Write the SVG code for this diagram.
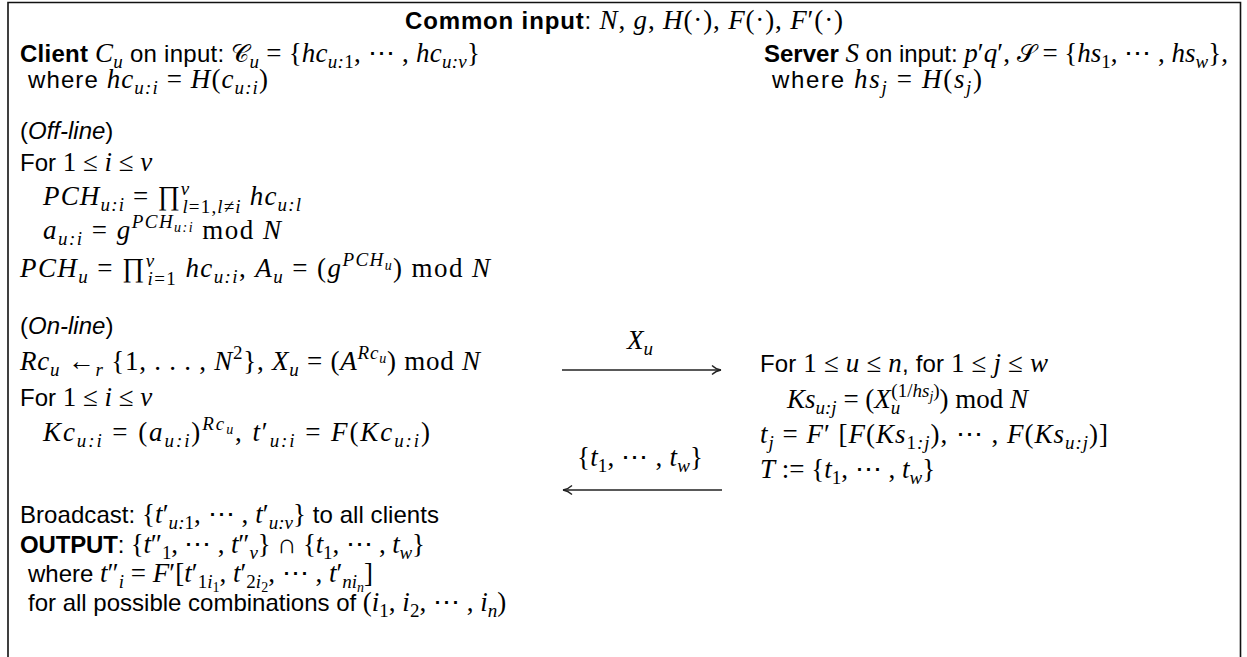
<svg xmlns="http://www.w3.org/2000/svg" width="1247" height="657" viewBox="0 0 1247 657">
<style>
text{font-family:"Liberation Serif","Times New Roman",serif;font-style:italic;font-size:27px;fill:#000}
.s{font-family:"Liberation Sans",Arial,sans-serif;font-style:normal;font-size:24px}
.b{font-weight:bold}
.si{font-style:italic}
.n{font-style:normal}
.sub{font-size:19px}
.sub2{font-size:14px}
.cal{font-family:"DejaVu Serif","Noto Sans",serif;font-style:normal;font-size:25px}
.ln{stroke:#222;stroke-width:1.3;fill:none}
.frame{stroke:#111;stroke-width:1.6;fill:none}
</style>
<defs>
<marker id="ah" markerWidth="12" markerHeight="12" refX="10" refY="6" orient="auto" markerUnits="userSpaceOnUse">
<path d="M1,1.5 Q5,5.3 10,6 Q5,6.7 1,10.5" class="ln"/>
</marker>
</defs>
<path class="frame" d="M8,657 V2.5 H1240.5 V657"/>
<g id="header">
<text x="405" y="29" textLength="438" lengthAdjust="spacing"><tspan class="s b">Common input</tspan><tspan class="s">: </tspan>N<tspan class="n">, </tspan>g<tspan class="n">, </tspan>H<tspan class="n">(·), </tspan>F<tspan class="n">(·), </tspan>F<tspan class="n">′(·)</tspan></text>
</g>
<g id="client">
<text x="20" y="62" textLength="460" lengthAdjust="spacing"><tspan class="s b">Client</tspan><tspan class="s"> </tspan>C<tspan class="sub" dy="6">u</tspan><tspan class="s" dy="-6"> on input: </tspan><tspan class="cal">𝒞</tspan><tspan class="sub" dy="6">u</tspan><tspan class="n" dy="-6"> = {</tspan>hc<tspan class="sub" dy="6">u:<tspan class="n">1</tspan></tspan><tspan class="n" dy="-6">, ⋯ , </tspan>hc<tspan class="sub" dy="6">u:v</tspan><tspan class="n" dy="-6">}</tspan></text>
<text x="28" y="88" textLength="240" lengthAdjust="spacing"><tspan class="s">where </tspan>hc<tspan class="sub" dy="6">u:i</tspan><tspan class="n" dy="-6"> = </tspan>H<tspan class="n">(</tspan>c<tspan class="sub" dy="6">u:i</tspan><tspan class="n" dy="-6">)</tspan></text>
</g>
<g id="server">
<text x="764" y="62"><tspan class="s b">Server</tspan><tspan class="s"> </tspan>S<tspan class="s"> on input: </tspan>p<tspan class="n">′</tspan>q<tspan class="n">′, </tspan><tspan class="cal">𝒮</tspan><tspan class="n"> = {</tspan>hs<tspan class="sub n" dy="6">1</tspan><tspan class="n" dy="-6">, ⋯ , </tspan>hs<tspan class="sub" dy="6">w</tspan><tspan class="n" dy="-6">},</tspan></text>
<text x="772" y="88" textLength="210" lengthAdjust="spacing"><tspan class="s">where </tspan>hs<tspan class="sub" dy="6">j</tspan><tspan class="n" dy="-6"> = </tspan>H<tspan class="n">(</tspan>s<tspan class="sub" dy="6">j</tspan><tspan class="n" dy="-6">)</tspan></text>
</g>
<g id="offline">
<text x="20" y="139" class="s">(<tspan class="si">Off-line</tspan>)</text>
<text x="20" y="171"><tspan class="s">For </tspan><tspan class="n">1 ≤ </tspan>i<tspan class="n"> ≤ </tspan>v</text>
<text x="43" y="205" textLength="258" lengthAdjust="spacing">PCH<tspan class="sub" dy="6">u:i</tspan><tspan class="n" dy="-6"> = ∏</tspan><tspan class="sub" dy="-10">v</tspan><tspan class="sub" dx="-8" dy="18">l<tspan class="n">=1,</tspan>l<tspan class="n">≠</tspan>i</tspan><tspan class="n" dy="-8"> </tspan>hc<tspan class="sub" dy="6">u:l</tspan></text>
<text x="43" y="239" textLength="238" lengthAdjust="spacing">a<tspan class="sub" dy="6">u:i</tspan><tspan class="n" dy="-6"> = </tspan>g<tspan class="sub" dy="-11">PCH</tspan><tspan class="sub2" dy="4">u:i</tspan><tspan class="n" dy="7"> mod </tspan>N</text>
<text x="20" y="277" textLength="470" lengthAdjust="spacing">PCH<tspan class="sub" dy="6">u</tspan><tspan class="n" dy="-6"> = ∏</tspan><tspan class="sub" dy="-10">v</tspan><tspan class="sub" dx="-8" dy="18">i<tspan class="n">=1</tspan></tspan><tspan class="n" dy="-8"> </tspan>hc<tspan class="sub" dy="6">u:i</tspan><tspan class="n" dy="-6">, </tspan>A<tspan class="sub" dy="6">u</tspan><tspan class="n" dy="-6"> = (</tspan>g<tspan class="sub" dy="-11">PCH</tspan><tspan class="sub2" dy="4">u</tspan><tspan class="n" dy="7">) mod </tspan>N</text>
</g>
<g id="online">
<text x="20" y="334" class="s">(<tspan class="si">On-line</tspan>)</text>
<text x="20" y="370" textLength="460" lengthAdjust="spacing">Rc<tspan class="sub" dy="6">u</tspan><tspan class="n" dy="-6"> ←</tspan><tspan class="sub" dy="6">r</tspan><tspan class="n" dy="-6"> {1, . . . , </tspan>N<tspan class="sub n" dy="-11">2</tspan><tspan class="n" dy="11">}, </tspan>X<tspan class="sub" dy="6">u</tspan><tspan class="n" dy="-6"> = (</tspan>A<tspan class="sub" dy="-11">Rc</tspan><tspan class="sub2" dy="4">u</tspan><tspan class="n" dy="7">) mod </tspan>N</text>
<text x="20" y="406"><tspan class="s">For </tspan><tspan class="n">1 ≤ </tspan>i<tspan class="n"> ≤ </tspan>v</text>
<text x="43" y="441" textLength="387" lengthAdjust="spacing">Kc<tspan class="sub" dy="6">u:i</tspan><tspan class="n" dy="-6"> = (</tspan>a<tspan class="sub" dy="6">u:i</tspan><tspan class="n" dy="-6">)</tspan><tspan class="sub" dy="-11">Rc</tspan><tspan class="sub2" dy="4">u</tspan><tspan class="n" dy="7">,  </tspan>t<tspan class="n">′</tspan><tspan class="sub" dy="6">u:i</tspan><tspan class="n" dy="-6"> = </tspan>F<tspan class="n">(</tspan>Kc<tspan class="sub" dy="6">u:i</tspan><tspan class="n" dy="-6">)</tspan></text>
</g>
<g id="server-compute">
<text x="760" y="372" textLength="288" lengthAdjust="spacing"><tspan class="s">For </tspan><tspan class="n">1 ≤ </tspan>u<tspan class="n"> ≤ </tspan>n<tspan class="s">, for </tspan><tspan class="n">1 ≤ </tspan>j<tspan class="n"> ≤ </tspan>w</text>
<text x="787" y="408">Ks<tspan class="sub" dy="6">u:j</tspan><tspan class="n" dy="-6"> = (</tspan>X<tspan class="sub" dy="6">u</tspan><tspan class="sub n" dx="-9" dy="-17">(1/</tspan><tspan class="sub">hs</tspan><tspan class="sub2" dy="4">j</tspan><tspan class="sub n" dy="-4">)</tspan><tspan class="n" dy="11">) mod </tspan>N</text>
<text x="760" y="443" textLength="348" lengthAdjust="spacing">t<tspan class="sub" dy="6">j</tspan><tspan class="n" dy="-6"> = </tspan>F<tspan class="n">′ [</tspan>F<tspan class="n">(</tspan>Ks<tspan class="sub" dy="6"><tspan class="n">1</tspan>:j</tspan><tspan class="n" dy="-6">), ⋯ , </tspan>F<tspan class="n">(</tspan>Ks<tspan class="sub" dy="6">u:j</tspan><tspan class="n" dy="-6">)]</tspan></text>
<text x="760" y="478">T<tspan class="n"> := {</tspan>t<tspan class="sub n" dy="6">1</tspan><tspan class="n" dy="-6">, ⋯ , </tspan>t<tspan class="sub" dy="6">w</tspan><tspan class="n" dy="-6">}</tspan></text>
</g>
<g id="output">
<text x="20" y="523" textLength="419" lengthAdjust="spacing"><tspan class="s">Broadcast: </tspan><tspan class="n">{</tspan>t<tspan class="n">′</tspan><tspan class="sub" dy="6">u:<tspan class="n">1</tspan></tspan><tspan class="n" dy="-6">, ⋯ , </tspan>t<tspan class="n">′</tspan><tspan class="sub" dy="6">u:v</tspan><tspan class="n" dy="-6">}</tspan><tspan class="s"> to all clients</tspan></text>
<text x="20" y="553" textLength="405" lengthAdjust="spacing"><tspan class="s b">OUTPUT</tspan><tspan class="s">: </tspan><tspan class="n">{</tspan>t<tspan class="n">″</tspan><tspan class="sub n" dy="6">1</tspan><tspan class="n" dy="-6">, ⋯ , </tspan>t<tspan class="n">″</tspan><tspan class="sub" dy="6">v</tspan><tspan class="n" dy="-6">} ∩ {</tspan>t<tspan class="sub n" dy="6">1</tspan><tspan class="n" dy="-6">, ⋯ , </tspan>t<tspan class="sub" dy="6">w</tspan><tspan class="n" dy="-6">}</tspan></text>
<text x="28" y="582"><tspan class="s">where </tspan>t<tspan class="n">″</tspan><tspan class="sub" dy="6">i</tspan><tspan class="n" dy="-6"> = </tspan>F<tspan class="n">′[</tspan>t<tspan class="n">′</tspan><tspan class="sub" dy="6"><tspan class="n">1</tspan>i</tspan><tspan class="sub2 n" dy="4">1</tspan><tspan class="n" dy="-10">, </tspan>t<tspan class="n">′</tspan><tspan class="sub" dy="6"><tspan class="n">2</tspan>i</tspan><tspan class="sub2 n" dy="4">2</tspan><tspan class="n" dy="-10">, ⋯ , </tspan>t<tspan class="n">′</tspan><tspan class="sub" dy="6">ni</tspan><tspan class="sub2" dy="4">n</tspan><tspan class="n" dy="-10">]</tspan></text>
<text x="28" y="611"><tspan class="s">for all possible combinations of </tspan><tspan class="n">(</tspan>i<tspan class="sub n" dy="6">1</tspan><tspan class="n" dy="-6">, </tspan>i<tspan class="sub n" dy="6">2</tspan><tspan class="n" dy="-6">, ⋯ , </tspan>i<tspan class="sub" dy="6">n</tspan><tspan class="n" dy="-6">)</tspan></text>
</g>
<g id="connectors">
<text x="640" y="349" text-anchor="middle">X<tspan class="sub" dy="6">u</tspan></text>
<line class="ln" x1="562" y1="370" x2="721" y2="370" marker-end="url(#ah)"/>
<text x="640" y="466" text-anchor="middle" textLength="126" lengthAdjust="spacing"><tspan class="n">{</tspan>t<tspan class="sub n" dy="6">1</tspan><tspan class="n" dy="-6">, ⋯ , </tspan>t<tspan class="sub" dy="6">w</tspan><tspan class="n" dy="-6">}</tspan></text>
<line class="ln" x1="722" y1="490" x2="563" y2="490" marker-end="url(#ah)"/>
</g>
</svg>
